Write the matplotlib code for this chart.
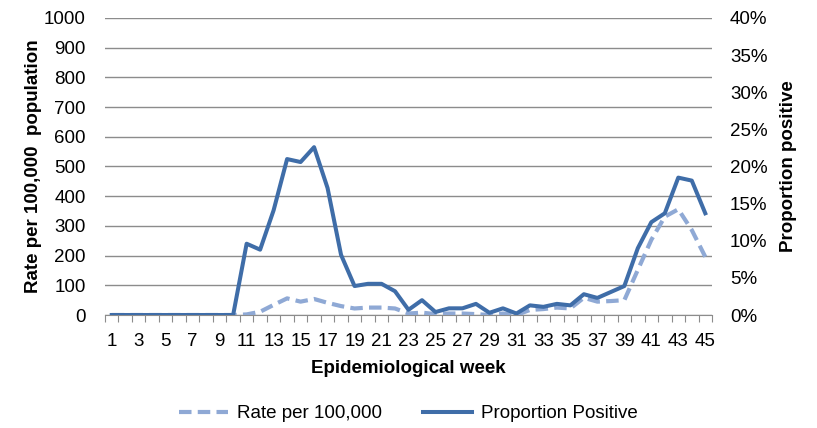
import matplotlib
matplotlib.use("Agg")
import matplotlib.pyplot as plt
from matplotlib.ticker import FuncFormatter

plt.rcParams['font.family'] = ['Liberation Sans', 'DejaVu Sans']

# data
weeks = list(range(1, 46))
rate = [0, 0, 0, 0, 0, 0, 0, 0, 0, 0,
        2, 11, 34, 56, 45, 54, 41, 30, 22, 25,
        25, 22, 5, 8, 3, 5, 5, 3, 0, 5,
        0, 17, 20, 25, 22, 58, 45, 47, 50, 152,
        253, 331, 356, 286, 196]
prop_pos = [0, 0, 0, 0, 0, 0, 0, 0, 0, 0,
            9.6, 8.8, 14.1, 21.0, 20.6, 22.6, 17.1, 8.1, 3.9, 4.2,
            4.2, 3.2, 0.7, 2.0, 0.4, 0.9, 0.9, 1.5, 0.3, 0.9,
            0.2, 1.3, 1.1, 1.5, 1.3, 2.8, 2.3, 3.1, 3.9, 9.0,
            12.5, 13.7, 18.5, 18.1, 13.7]

col_rate = '#8FA9D5'
col_prop = '#3F6DA8'
grid_col = '#8C8C8C'
fs = 13.5

fig = plt.figure(figsize=(8.17, 4.28), dpi=100)
ax = fig.add_axes([0.1285, 0.264, 0.743, 0.694])
ax2 = ax.twinx()

x = list(range(len(weeks)))
l1, = ax.plot(x, rate, color=col_rate, lw=3, dashes=(3, 1.5),
              label='Rate per 100,000', zorder=3)
l2, = ax2.plot(x, [p / 100 for p in prop_pos], color=col_prop, lw=2.9,
               label='Proportion Positive', zorder=4)

ax.set_ylim(0, 1000)
ax.set_yticks(range(0, 1001, 100))
ax2.set_ylim(0, 0.4)
ax2.set_yticks([i * 0.05 for i in range(9)])
ax2.yaxis.set_major_formatter(FuncFormatter(lambda v, p: f'{v*100:.0f}%'))

ax.set_xlim(-0.5, len(weeks) - 0.5)
ax.set_xticks(x[::2])
ax.set_xticklabels([str(w) for w in weeks[::2]])
ax.set_xticks([i - 0.5 for i in range(len(weeks) + 1)], minor=True)
ax.tick_params(axis='x', which='major', length=0, pad=13, labelsize=fs)
ax.tick_params(axis='x', which='minor', length=5, color=grid_col, width=0.8)
ax.tick_params(axis='y', length=0, pad=14, labelsize=fs)
ax2.tick_params(axis='y', length=0, pad=13, labelsize=fs)

ax.grid(axis='y', color=grid_col, lw=1)
ax.set_axisbelow(True)
for a in (ax, ax2):
    for s in ('top', 'left', 'right'):
        a.spines[s].set_visible(False)
ax.spines['bottom'].set_color(grid_col)
ax2.spines['bottom'].set_visible(False)

ax.set_xlabel('Epidemiological week', fontsize=fs, fontweight='bold', labelpad=7)
ax.set_ylabel('Rate per 100,000  population', fontsize=fs, fontweight='bold', labelpad=1)
ax2.set_ylabel('Proportion positive', fontsize=fs, fontweight='bold', labelpad=9)

fig.legend(handles=[l1, l2], loc='center', bbox_to_anchor=(0.5, 0.033), ncol=2,
           frameon=False, fontsize=fs, handlelength=2.6, handletextpad=0.5,
           columnspacing=2.2)

fig.savefig('out.png', dpi=100)
